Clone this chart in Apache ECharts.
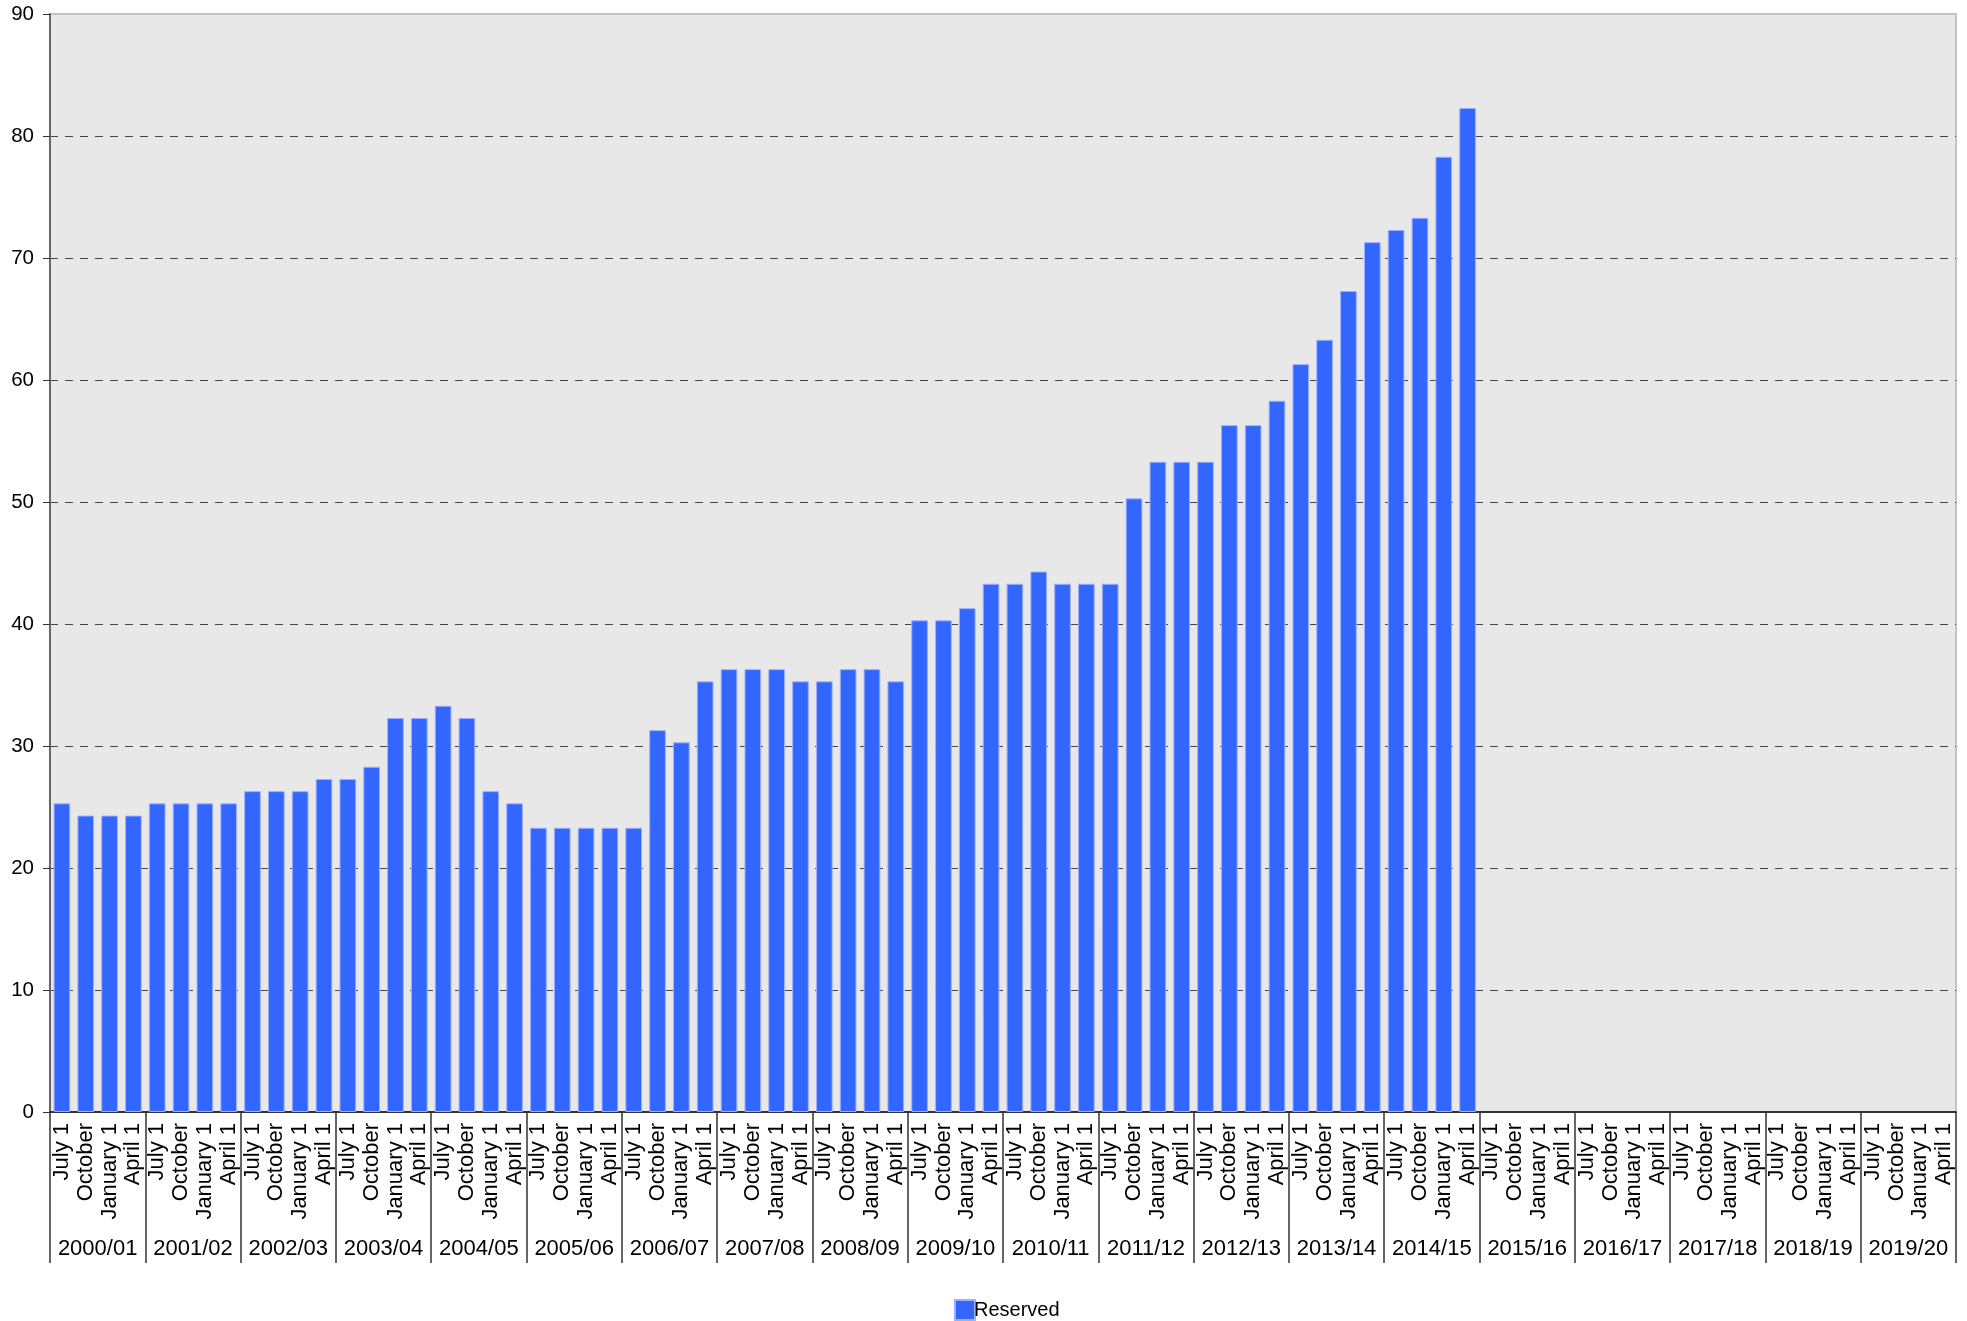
<!DOCTYPE html>
<html>
<head>
<meta charset="utf-8">
<script src="https://cdn.jsdelivr.net/npm/echarts@6/dist/echarts.min.js"></script>
<style>
  html, body { margin: 0; padding: 0; background: #ffffff; }
  #chart { width: 1967px; height: 1321px; }
</style>
</head>
<body>
<div id="chart"></div>
<script>
// ---- data ----
const years = ["2000/01","2001/02","2002/03","2003/04","2004/05","2005/06","2006/07","2007/08","2008/09","2009/10",
               "2010/11","2011/12","2012/13","2013/14","2014/15","2015/16","2016/17","2017/18","2018/19","2019/20"];
const quarterLabels = ["July 1","October","January 1","April 1"];
const seriesName = "Reserved";
const reserved = [
  25.3, 24.3, 24.3, 24.3,   // 2000/01
  25.3, 25.3, 25.3, 25.3,   // 2001/02
  26.3, 26.3, 26.3, 27.3,   // 2002/03
  27.3, 28.3, 32.3, 32.3,   // 2003/04
  33.3, 32.3, 26.3, 25.3,   // 2004/05
  23.3, 23.3, 23.3, 23.3,   // 2005/06
  23.3, 31.3, 30.3, 35.3,   // 2006/07
  36.3, 36.3, 36.3, 35.3,   // 2007/08
  35.3, 36.3, 36.3, 35.3,   // 2008/09
  40.3, 40.3, 41.3, 43.3,   // 2009/10
  43.3, 44.3, 43.3, 43.3,   // 2010/11
  43.3, 50.3, 53.3, 53.3,   // 2011/12
  53.3, 56.3, 56.3, 58.3,   // 2012/13
  61.3, 63.3, 67.3, 71.3,   // 2013/14
  72.3, 73.3, 78.3, 82.3    // 2014/15
];
const yTicks = { min: 0, max: 90, interval: 10 };

// quarter categories (one per quarter of each fiscal year)
const quarterCats = [];
years.forEach(function (y) { quarterLabels.forEach(function (q) { quarterCats.push(q); }); });

const FONT = "'Liberation Sans', Arial, sans-serif";

const chart = echarts.init(document.getElementById('chart'), null, { renderer: 'canvas' });
chart.setOption({
  animation: false,
  backgroundColor: '#ffffff',
  textStyle: { fontFamily: FONT, color: '#000' },
  grid: {
    left: 50, right: 11, top: 14, bottom: 209,
    show: true, backgroundColor: '#e8e8e8', borderColor: '#c4c4c4', borderWidth: 2
  },
  legend: {
    data: [seriesName],
    left: 949, top: 1294,
    itemWidth: 20, itemHeight: 20, icon: 'rect',
    textStyle: { fontFamily: FONT, fontSize: 20, color: '#000', padding: [4, 0, 0, -6] }
  },
  xAxis: [
    {
      type: 'category',
      data: quarterCats,
      position: 'bottom',
      axisLine: { show: true, lineStyle: { color: '#333', width: 2 } },
      axisTick: { show: false },
      axisLabel: {
        interval: 0, rotate: 90, margin: 11,
        fontFamily: FONT, fontSize: 22, color: '#000'
      },
      splitLine: { show: false }
    },
    {
      type: 'category',
      data: years,
      position: 'bottom',
      axisLine: { show: false },
      axisTick: { show: true, interval: 0, length: 151, lineStyle: { color: '#333', width: 1.5 } },
      axisLabel: { interval: 0, margin: 126, fontFamily: FONT, fontSize: 22, color: '#000' },
      splitLine: { show: false }
    }
  ],
  yAxis: {
    type: 'value',
    min: yTicks.min, max: yTicks.max, interval: yTicks.interval,
    axisLine: { show: true, lineStyle: { color: '#666', width: 2 } },
    axisTick: { show: true, length: 7, lineStyle: { color: '#333', width: 1 } },
    axisLabel: { margin: 16, fontFamily: FONT, fontSize: 20.5, color: '#000' },
    splitLine: {
      show: true, showMinLine: false, showMaxLine: false,
      lineStyle: { color: '#444', width: 1, type: [8, 7] }
    }
  },
  series: [{
    name: seriesName,
    type: 'bar',
    xAxisIndex: 0,
    data: reserved,
    barCategoryGap: '30%',
    itemStyle: { color: '#3366ff', borderColor: '#9fb0ff', borderWidth: 1 }
  }]
});
</script>
</body>
</html>
